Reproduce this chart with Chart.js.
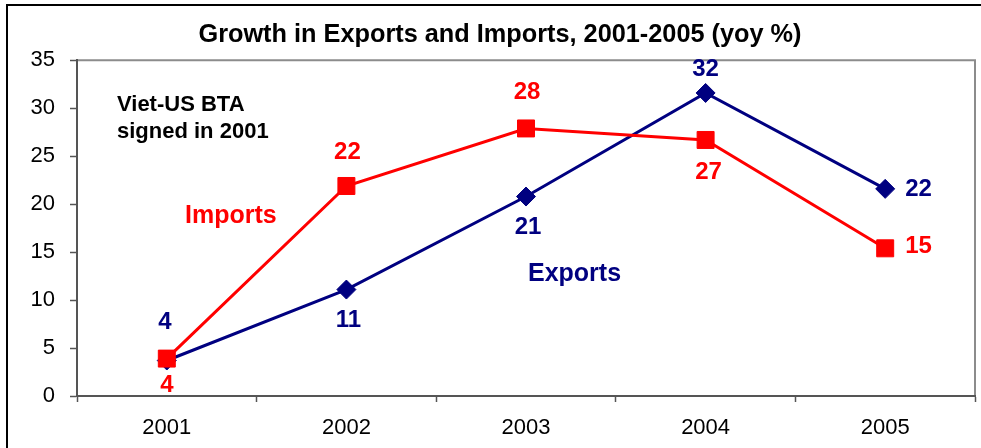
<!DOCTYPE html>
<html>
<head>
<meta charset="utf-8">
<title>Growth in Exports and Imports</title>
<script src="https://cdn.jsdelivr.net/npm/chart.js@4.4.0/dist/chart.umd.min.js"></script>
<style>
  html, body { margin: 0; padding: 0; background: #fff; }
  #growthChart { display: block; }
</style>
</head>
<body>
<canvas id="growthChart" width="981" height="448"></canvas>
<script>
// ---------- data ----------
const years = ['2001', '2002', '2003', '2004', '2005'];
const exportsGrowth = [3.7, 11.1, 20.8, 31.6, 21.6];
const importsGrowth = [3.9, 21.9, 27.9, 26.7, 15.4];
const yTicks = [0, 5, 10, 15, 20, 25, 30, 35];

// where each value label sits relative to its point: [dx, dy (baseline), align]
const exportsLabelPos = [[-2, -32, 'center'], [2, 37, 'center'], [2, 37, 'center'], [0, -17, 'center'], [20, 7, 'left']];
const importsLabelPos = [[0, 33, 'center'], [1, -27, 'center'], [1, -29, 'center'], [3, 39, 'center'], [20, 5, 'left']];

const FONT = '"Liberation Sans", Arial, Helvetica, sans-serif';
const NAVY = '#000080';
const RED = '#ff0000';

// outer frame and the grey top/right edge of the plot area
const framePlugin = {
    id: 'frame',
    beforeDraw(chart) {
        const ctx = chart.ctx;
        const a = chart.chartArea;
        ctx.save();
        ctx.fillStyle = '#fff';
        ctx.fillRect(0, 0, chart.width, chart.height);
        ctx.strokeStyle = '#000';
        ctx.lineWidth = 2;
        ctx.beginPath();
        ctx.moveTo(7, chart.height);
        ctx.lineTo(7, 5);
        ctx.lineTo(chart.width, 5);
        ctx.stroke();
        ctx.strokeStyle = '#8c8c8c';
        ctx.lineWidth = 2;
        ctx.beginPath();
        ctx.moveTo(a.left, a.top);
        ctx.lineTo(a.right, a.top);
        ctx.lineTo(a.right, a.bottom);
        ctx.stroke();
        ctx.restore();
    }
};

// numbers next to every point, plus the free text notes
const labelPlugin = {
    id: 'valueLabels',
    afterDatasetsDraw(chart) {
        const ctx = chart.ctx;
        ctx.save();
        ctx.font = 'bold 24px ' + FONT;
        ctx.textBaseline = 'alphabetic';
        chart.data.datasets.forEach((ds, i) => {
            const meta = chart.getDatasetMeta(i);
            meta.data.forEach((pt, j) => {
                const [dx, dy, align] = ds.labelPos[j];
                ctx.fillStyle = ds.borderColor;
                ctx.textAlign = align;
                ctx.fillText(String(Math.round(ds.data[j])), pt.x + dx, pt.y + dy);
            });
        });

        ctx.textAlign = 'left';
        ctx.fillStyle = '#000';
        ctx.font = 'bold 22px ' + FONT;
        ctx.fillText('Viet-US BTA', 117, 111);
        ctx.fillText('signed in 2001', 117, 138);

        ctx.font = 'bold 25px ' + FONT;
        ctx.fillStyle = RED;
        ctx.fillText('Imports', 185, 223);
        ctx.fillStyle = NAVY;
        ctx.fillText('Exports', 528, 281);
        ctx.restore();
    }
};

const tickFont = { family: FONT, size: 22 };

new Chart(document.getElementById('growthChart'), {
    type: 'line',
    data: {
        labels: years,
        datasets: [
            {
                label: 'Imports',
                data: importsGrowth,
                labelPos: importsLabelPos,
                borderColor: RED,
                backgroundColor: RED,
                borderWidth: 3,
                pointStyle: 'rect',
                pointRadius: 12,
                pointHoverRadius: 12,
                pointBorderWidth: 1,
                pointBackgroundColor: RED,
                pointBorderColor: RED,
                tension: 0
            },
            {
                label: 'Exports',
                data: exportsGrowth,
                labelPos: exportsLabelPos,
                borderColor: NAVY,
                backgroundColor: NAVY,
                borderWidth: 3,
                pointStyle: 'rectRot',
                pointRadius: 9.5,
                pointHoverRadius: 9.5,
                pointBorderWidth: 1,
                pointBackgroundColor: NAVY,
                pointBorderColor: NAVY,
                tension: 0
            }
        ]
    },
    options: {
        responsive: false,
        animation: false,
        devicePixelRatio: 1,
        layout: { autoPadding: false, padding: { left: 25, right: 6, top: 0, bottom: 0 } },
        plugins: {
            legend: { display: false },
            tooltip: { enabled: false },
            title: {
                display: true,
                text: 'Growth in Exports and Imports, 2001-2005 (yoy %)',
                color: '#000',
                font: { family: FONT, size: 25.3, weight: 'bold' },
                padding: { top: 20, bottom: 10 }
            }
        },
        scales: {
            x: {
                offset: true,
                grid: { offset: true, drawOnChartArea: false, tickLength: 6, tickColor: '#555', tickWidth: 1.5 },
                border: { color: '#555', width: 2 },
                ticks: { padding: 13, font: tickFont, color: '#000', maxRotation: 0 },
                afterFit: s => { s.height = 52; s.paddingLeft = 0; s.paddingRight = 0; }
            },
            y: {
                min: yTicks[0],
                max: yTicks[yTicks.length - 1],
                afterBuildTicks: s => { s.ticks = yTicks.map(v => ({ value: v })); },
                afterFit: s => { s.width = 52; },
                grid: { drawOnChartArea: false, tickLength: 7, tickColor: '#555', tickWidth: 1.5 },
                border: { color: '#555', width: 2 },
                ticks: { padding: 15, font: tickFont, color: '#000' }
            }
        }
    },
    plugins: [framePlugin, labelPlugin]
});
</script>
</body>
</html>
